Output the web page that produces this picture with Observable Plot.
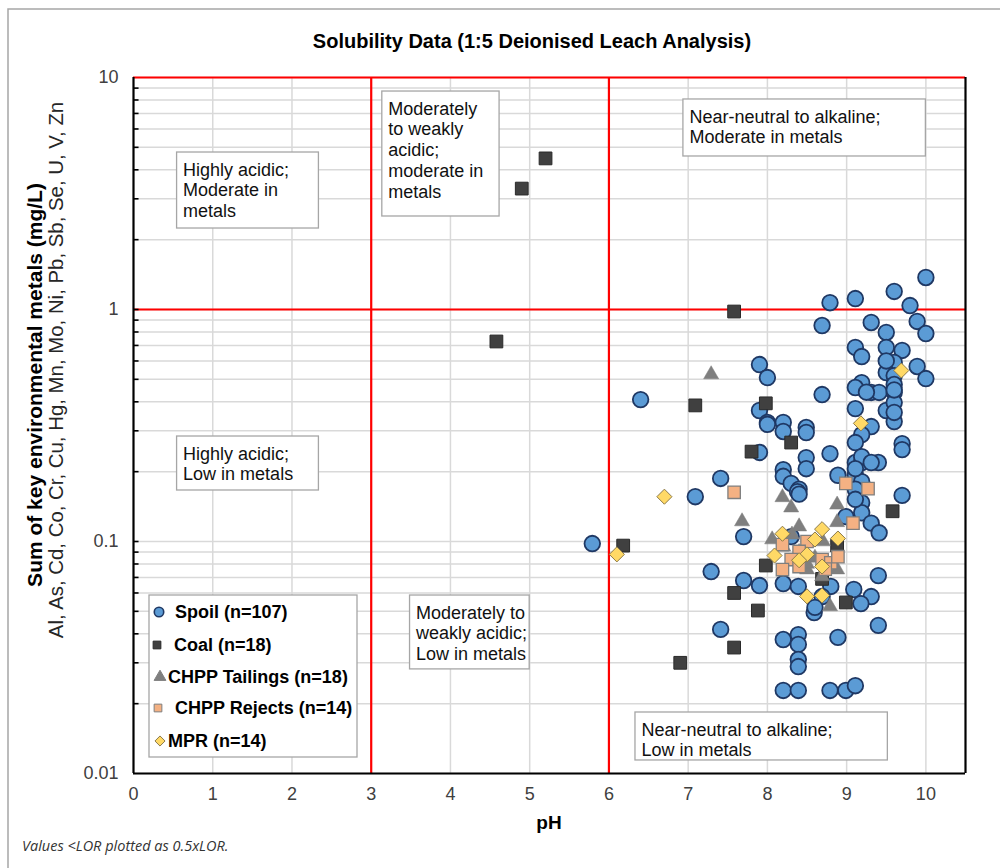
<!DOCTYPE html>
<html>
<head>
<meta charset="utf-8">
<script src="https://cdn.jsdelivr.net/npm/d3@7"></script>
<script src="https://cdn.jsdelivr.net/npm/@observablehq/plot@0.6"></script>
<style>
  html, body { margin: 0; padding: 0; background: #fff; }
  #chart { width: 1000px; height: 868px; }
  svg { overflow: visible; }
</style>
</head>
<body>
<div id="chart"></div>
<script>
// ---------------- DATA ----------------
const seriesNames = ["Spoil (n=107)", "Coal (n=18)", "CHPP Tailings (n=18)", "CHPP Rejects (n=14)", "MPR (n=14)"];

const spoilPH = [8.79, 9.11, 9.60, 10.0, 9.80, 8.69, 9.31, 9.50, 9.89, 10.0,
  9.11, 9.19, 9.50, 9.70, 9.60, 9.50, 9.89, 10.0, 9.60, 9.60,
  9.19, 9.11, 9.31, 9.41, 8.69, 9.60, 6.40, 7.90, 8.00, 7.90,
  8.00, 8.20, 8.20, 8.49, 8.49, 9.11, 9.50, 9.60, 9.60, 9.31,
  9.19, 9.11, 9.70, 9.70, 7.90, 8.79, 8.49, 8.49, 9.11, 9.19,
  9.19, 9.40, 8.20, 8.20, 8.30, 8.40, 8.89, 9.11, 9.19, 9.11,
  9.70, 7.41, 7.09, 8.38, 9.19, 9.19, 8.99, 9.31, 9.41, 5.79,
  7.70, 7.29, 7.70, 7.90, 8.20, 8.39, 8.80, 9.09, 9.31, 9.18,
  8.59, 9.40, 9.40, 7.41, 8.20, 8.39, 8.39, 8.39, 8.39, 8.89,
  8.20, 8.39, 8.79, 8.99, 9.11, 8.69, 9.31, 9.11, 9.60, 9.50,
  8.40, 9.11, 8.60, 8.00, 9.25, 9.60, 8.30];
const spoilVal = [1.07, 1.115, 1.196, 1.374, 1.040, 0.853, 0.879, 0.796, 0.888, 0.788,
  0.686, 0.627, 0.686, 0.666, 0.591, 0.535, 0.568, 0.504, 0.519, 0.475,
  0.484, 0.461, 0.439, 0.439, 0.430, 0.439, 0.409, 0.579, 0.509, 0.367,
  0.326, 0.326, 0.298, 0.310, 0.295, 0.374, 0.367, 0.397, 0.329, 0.313,
  0.289, 0.267, 0.264, 0.249, 0.242, 0.239, 0.230, 0.206, 0.219, 0.219,
  0.232, 0.219, 0.204, 0.191, 0.178, 0.168, 0.193, 0.193, 0.181, 0.168,
  0.158, 0.187, 0.156, 0.164, 0.147, 0.133, 0.128, 0.120, 0.109, 0.098,
  0.105, 0.0742, 0.0679, 0.0646, 0.0659, 0.064, 0.064, 0.0621, 0.0579, 0.054,
  0.0494, 0.0713, 0.0435, 0.0418, 0.0378, 0.0397, 0.036, 0.031, 0.0289, 0.0386,
  0.0228, 0.0228, 0.0228, 0.0228, 0.0239, 0.0579, 0.219, 0.206, 0.36, 0.60,
  0.160, 0.152, 0.052, 0.32, 0.44, 0.45, 0.105];

const coalPH = [5.20, 4.90, 4.58, 7.58, 7.09, 7.98, 7.80, 8.30, 6.18, 7.98,
  7.58, 7.88, 7.58, 6.90, 8.69, 8.88, 8.99, 9.58];
const coalVal = [4.48, 3.32, 0.728, 0.98, 0.386, 0.394, 0.244, 0.267, 0.096, 0.0788,
  0.060, 0.0504, 0.0349, 0.030, 0.069, 0.096, 0.0546, 0.135];

const tailingsPH = [7.29, 7.68, 8.19, 8.30, 8.88, 8.88, 8.40, 8.06, 8.31, 8.50,
  8.88, 8.69, 8.79, 8.40, 8.60, 8.20, 8.70, 8.50];
const tailingsVal = [0.525, 0.122, 0.155, 0.140, 0.144, 0.121, 0.116, 0.102, 0.107, 0.0757,
  0.0757, 0.0707, 0.0525, 0.090, 0.085, 0.095, 0.100, 0.080];

const rejectsPH = [7.58, 8.99, 9.27, 9.08, 8.50, 8.19, 8.40, 8.30, 8.19, 8.40,
  8.69, 8.80, 8.89, 8.73];
const rejectsVal = [0.163, 0.178, 0.169, 0.120, 0.100, 0.097, 0.0906, 0.0836, 0.0757, 0.078,
  0.0836, 0.081, 0.086, 0.076];

const mprPH = [6.70, 6.10, 9.69, 9.18, 8.19, 8.69, 8.60, 8.89, 8.09, 8.50,
  8.69, 8.50, 8.69, 8.40];
const mprVal = [0.156, 0.088, 0.546, 0.323, 0.108, 0.113, 0.102, 0.103, 0.087, 0.088,
  0.078, 0.058, 0.0585, 0.083];

const xTicks = [0, 1, 2, 3, 4, 5, 6, 7, 8, 9, 10];
const yTicks = [0.01, 0.1, 1, 10];
const xTickLabels = ["0", "1", "2", "3", "4", "5", "6", "7", "8", "9", "10"];
const yTickLabels = ["0.01", "0.1", "1", "10"];

const zoneText = [
  "Highly acidic;\nModerate in\nmetals",
  "Moderately\nto weakly\nacidic;\nmoderate in\nmetals",
  "Near-neutral to alkaline;\nModerate in metals",
  "Highly acidic;\nLow in metals",
  "Moderately to\nweakly acidic;\nLow in metals",
  "Near-neutral to alkaline;\nLow in metals"
];
const zoneLeft = [0.55, 3.14, 6.94, 0.55, 3.49, 6.335];
const zoneRight = [2.34, 4.62, 10.0, 2.34, 5.0, 9.52];
const zoneTop = [4.75, 8.70, 8.04, 0.2835, 0.0585, 0.01832];
const zoneBottom = [2.234, 2.517, 4.566, 0.1659, 0.0281, 0.01138];

const titleText = "Solubility Data (1:5 Deionised Leach Analysis)";
const xLabel = "pH";
const yLabel1 = "Sum of key environmental metals (mg/L)";
const yLabel2 = "Al, As, Cd, Co, Cr, Cu, Hg, Mn, Mo, Ni, Pb, Sb, Se, U, V, Zn";
const captionText = "Values <LOR plotted as 0.5xLOR.";

// ---------------- BUILD ----------------
const rows = (ph, val, s) => ph.map((x, i) => ({ph: x, val: val[i], series: s}));
const allSeries = [
  rows(spoilPH, spoilVal, seriesNames[0]),
  rows(coalPH, coalVal, seriesNames[1]),
  rows(tailingsPH, tailingsVal, seriesNames[2]),
  rows(rejectsPH, rejectsVal, seriesNames[3]),
  rows(mprPH, mprVal, seriesNames[4])
];
const styles = [
  {symbol: "circle", r: 7.8, fill: "#5b9bd5", stroke: "#1f3864", strokeWidth: 1.8},
  {symbol: "square", r: 7.2, fill: "#404040", stroke: "#2a2a2a", strokeWidth: 1},
  {symbol: "triangle", r: 5.6, fill: "#7f7f7f", stroke: "#7f7f7f", strokeWidth: 0.5},
  {symbol: "square", r: 7.0, fill: "#f4b183", stroke: "#7f7f7f", strokeWidth: 1.3},
  {symbol: "diamond2", r: 6.8, fill: "#ffd966", stroke: "#8c7a4a", strokeWidth: 1}
];
const zones = zoneText.map((t, i) => ({label: t, x1: zoneLeft[i], x2: zoneRight[i], top: zoneTop[i], bottom: zoneBottom[i]}));

const minor = [];
for (const d of [0.01, 0.1, 1]) for (let k = 1; k <= 9; k++) minor.push(+(k * d).toPrecision(3));
minor.push(10);

const FONT = "'Liberation Sans', Arial, sans-serif";

const plot = Plot.plot({
  width: 1000,
  height: 868,
  marginTop: 77,
  marginLeft: 133,
  marginRight: 35,
  marginBottom: 95,
  style: {fontFamily: FONT, fontSize: "18px", background: "white", overflow: "visible"},
  x: {domain: [0, 10.5]},
  y: {type: "log", domain: [0.01, 10]},
  marks: [
    Plot.gridX(xTicks.slice(1), {stroke: "#d9d9d9", strokeOpacity: 1, strokeWidth: 1.5}),
    Plot.gridY(minor, {stroke: "#d9d9d9", strokeOpacity: 1, strokeWidth: 1.5}),
    Plot.rect(zones, {x1: "x1", x2: "x2", y1: "bottom", y2: "top", fill: "white", stroke: "#a6a6a6", strokeWidth: 1.3}),
    Plot.text(zones, {x: "x1", y: "top", text: "label", textAnchor: "start", lineAnchor: "top",
      dx: 6, dy: 8.5, fontSize: 18, lineHeight: 1.15, fill: "#111"}),
    Plot.ruleX([3, 6], {stroke: "#ff0000", strokeWidth: 2.2}),
    Plot.ruleY([1, 10], {stroke: "#ff0000", strokeWidth: 2.2}),
    Plot.ruleX([0, 10.5], {stroke: "#000", strokeWidth: 2.2}),
    Plot.ruleY([0.01], {stroke: "#000", strokeWidth: 2.2}),
    Plot.ruleY(minor.filter(v => v > 0.01 && v < 10), {x1: 0, x2: 0.07, stroke: "#000", strokeWidth: 1.6}),
    Plot.axisX(xTicks, {tickSize: 0, tickPadding: 14, fontSize: 18, fill: "#404040",
      tickFormat: d => xTickLabels[xTicks.indexOf(d)], label: null}),
    Plot.axisY(yTicks, {tickSize: 0, tickPadding: 15, fontSize: 18, fill: "#404040",
      tickFormat: d => yTickLabels[yTicks.indexOf(d)], label: null}),
    ...allSeries.map((data, i) => Plot.dot(data, {x: "ph", y: "val", ...styles[i]}))
  ]
});

const svg = d3.select(plot);

// outer chart frame
svg.append("path").attr("d", "M8,868V9H1000").attr("fill", "none")
  .attr("stroke", "#a6a6a6").attr("stroke-width", 1.5);

// title
svg.append("text").attr("x", 532).attr("y", 41).attr("text-anchor", "middle")
  .attr("dominant-baseline", "central").attr("font-family", FONT).attr("font-weight", "bold")
  .attr("font-size", 20).attr("fill", "#000").text(titleText);

// x label
svg.append("text").attr("x", 549).attr("y", 822).attr("text-anchor", "middle")
  .attr("dominant-baseline", "central").attr("font-family", FONT).attr("font-weight", "bold")
  .attr("font-size", 19).attr("fill", "#000").text(xLabel);

// y labels
svg.append("text").attr("transform", "translate(34,385) rotate(-90)").attr("text-anchor", "middle")
  .attr("dominant-baseline", "central").attr("font-family", FONT).attr("font-weight", "bold")
  .attr("font-size", 21).attr("fill", "#000").text(yLabel1);
svg.append("text").attr("transform", "translate(56,370) rotate(-90)").attr("text-anchor", "middle")
  .attr("dominant-baseline", "central").attr("font-family", FONT)
  .attr("font-size", 20.4).attr("fill", "#262626").text(yLabel2);

// caption
svg.append("text").attr("x", 22).attr("y", 845).attr("text-anchor", "start").attr("dominant-baseline", "central")
  .attr("font-family", "'Open Sans', sans-serif").attr("font-style", "italic")
  .attr("font-size", 14.5).attr("fill", "#333").text(captionText);

// legend
const lg = svg.append("g");
lg.append("rect").attr("x", 149).attr("y", 595).attr("width", 208).attr("height", 162)
  .attr("fill", "white").attr("stroke", "#a6a6a6").attr("stroke-width", 1.3);
const legendRowsY = [612, 645, 677, 708, 741];
const legendMarkX = [159, 157, 160, 158, 160];
const legendTextX = [175, 174, 168, 175, 168];
const legendSym = [d3.symbolCircle, d3.symbolSquare, d3.symbolTriangle, d3.symbolSquare, d3.symbolDiamond2];
const legendSize = [70, 60, 60, 60, 65];
seriesNames.forEach((name, i) => {
  lg.append("path")
    .attr("d", d3.symbol(legendSym[i], legendSize[i])())
    .attr("transform", `translate(${legendMarkX[i]},${legendRowsY[i]})`)
    .attr("fill", styles[i].fill).attr("stroke", styles[i].stroke)
    .attr("stroke-width", i === 0 ? 1.6 : 1);
  lg.append("text").attr("x", legendTextX[i]).attr("y", legendRowsY[i]).attr("text-anchor", "start")
    .attr("dominant-baseline", "central").attr("font-family", FONT).attr("font-weight", "bold")
    .attr("font-size", 18).attr("fill", "#000").text(name);
});

document.getElementById("chart").appendChild(plot);
</script>
</body>
</html>
